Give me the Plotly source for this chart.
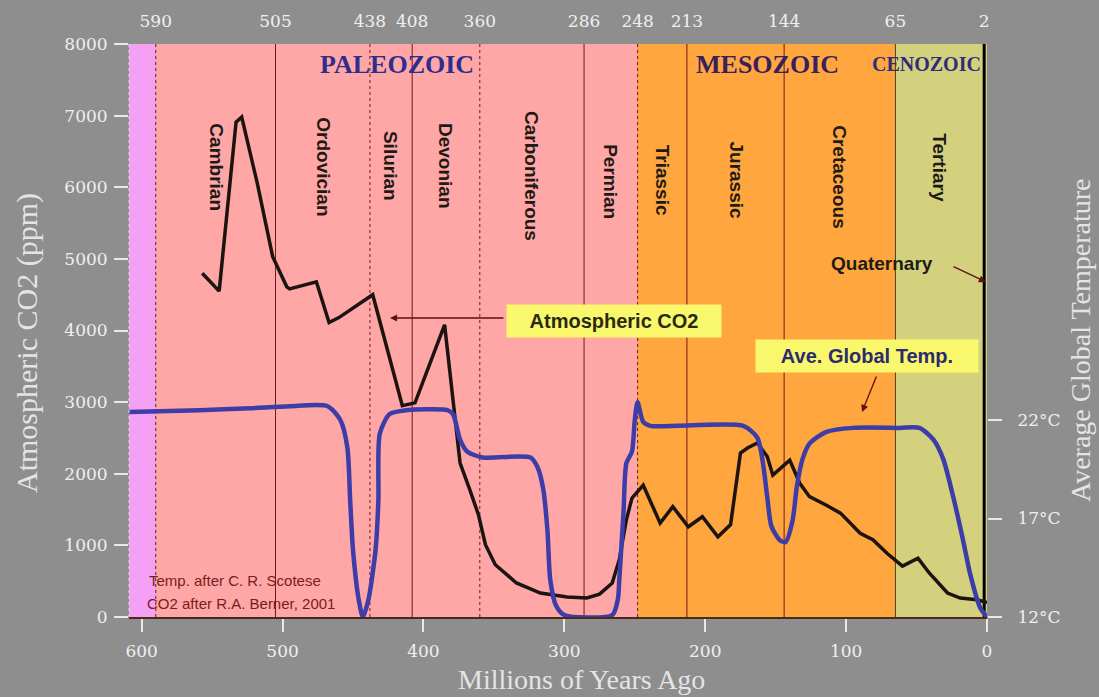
import plotly.graph_objects as go

# ---------------- data ----------------
co2_age = [557, 545, 533, 529, 518, 507, 497, 495, 476, 467, 460, 436, 415, 406,
           385, 379, 374, 367, 361, 356, 349, 334, 317, 298, 284, 275, 266, 261,
           256, 252, 244, 232, 223, 212, 202, 191, 182, 175, 170, 163, 156, 152,
           146, 140, 133, 126, 114, 104, 90, 81, 71, 60, 49, 41, 28, 19, 7, 0]
co2_ppm = [4800, 4550, 6910, 6980, 6060, 5030, 4610, 4580, 4680, 4110, 4180, 4500, 2950, 2990,
           4080, 3030, 2150, 1770, 1430, 1010, 730, 475, 335, 280, 265, 320, 475, 800,
           1355, 1660, 1840, 1310, 1540, 1260, 1400, 1120, 1290, 2290, 2360, 2430, 2240, 1980,
           2080, 2190, 1870, 1680, 1560, 1450, 1170, 1080, 890, 710, 820, 615, 335, 265, 240, 200]

temp_age = [609, 559, 523, 495, 468, 459, 454, 452, 450, 446, 443, 439, 434, 432, 431,
            424, 412, 383, 379, 374, 369, 358, 324, 319, 315, 312, 310, 306, 300, 266,
            262, 261, 258, 256, 252, 250, 248, 244, 239, 173, 163, 159, 156, 153, 147,
            143, 138, 135, 131, 126, 114, 95, 62, 48, 38, 31, 24, 17, 12, 5, 0]
temp_c = [22.4, 22.5, 22.6, 22.7, 22.7, 22.0, 20.6, 17.9, 15.4, 12.9, 12.0, 12.9, 15.4, 17.9, 21.3,
          22.3, 22.5, 22.5, 22.3, 21.0, 20.4, 20.1, 20.1, 19.6, 18.5, 16.4, 13.9, 12.6, 12.1, 12.1,
          12.9, 13.9, 17.3, 19.8, 20.4, 22.0, 22.9, 21.9, 21.7, 21.7, 21.1, 19.8, 18.1, 16.6, 15.9,
          15.8, 16.9, 18.6, 20.0, 20.8, 21.4, 21.6, 21.6, 21.6, 21.0, 20.0, 18.1, 15.9, 14.2, 12.5, 12.0]

boundary_ages = [590, 505, 438, 408, 360, 286, 248, 213, 144, 65, 2]
boundary_labels = ["590", "505", "438", "408", "360", "286", "248", "213", "144", "65", "2"]
period_names = ["Cambrian", "Ordovician", "Silurian", "Devonian", "Carboniferous",
                "Permian", "Triassic", "Jurassic", "Cretaceous", "Tertiary"]
era_names = ["PALEOZOIC", "MESOZOIC", "CENOZOIC"]
era_starts = [590, 248, 65]
era_ends = [248, 65, 0]
precambrian_start = 609
x_ticks = [600, 500, 400, 300, 200, 100, 0]
co2_ticks = [0, 1000, 2000, 3000, 4000, 5000, 6000, 7000, 8000]
temp_ticks = [12, 17, 22]
temp_tick_labels = ["12°C", "17°C", "22°C"]

# ---------------- layout / style ----------------
W, H = 1099, 697
ML, MR, MT, MB = 129, 112, 44, 80
PW, PH = W - ML - MR, H - MT - MB
X_RANGE = [precambrian_start, 0]
Y_RANGE = [0, 8000]
Y2_RANGE = [12, 12 + PH / 19.7]


def px(xp):
    return (xp - ML) / PW


def py(yp):
    return (H - MB - yp) / PH


GRAY = "#8e8e8e"
band_colors = ["#ffa7a7", "#ffa63e", "#d3d17d"]
precambrian_color = "#f4a0f4"
era_text_colors = ["#2d2d8e", "#3a1f5c", "#2d2d7e"]
era_text_sizes = [26, 26, 20]
era_label_x = [419, 156, 43]
period_label_y = [167, 167, 166, 166, 176, 182, 180, 180, 177, 168]
line_dash = ["dot", "solid", "dot", "solid", "dot", "solid", "dot", "solid", "solid", "solid", "solid"]
line_color = ["#6e1a1a"] * 9 + ["#4f4410", "#000000"]
line_width = [1, 1, 1, 1, 1, 1, 1, 1, 1, 1, 3]

TICK_FONT = dict(family="DejaVu Serif", size=17, color="#efefef")
TITLE_FONT = dict(family="Liberation Serif", size=30, color="#e4e4e4")
LABEL_FONT = dict(family="Liberation Sans", size=19, color="#1f1a16")
NOTE_FONT = dict(family="Liberation Sans", size=15, color="#7a1c1c")
C = dict(xanchor="center", yanchor="middle")

fig = go.Figure()

fig.add_trace(go.Scatter(x=temp_age, y=temp_c, yaxis="y2", mode="lines",
                         line=dict(color="#3d3daa", width=4.5, shape="spline", smoothing=0.7),
                         hoverinfo="skip", showlegend=False))
fig.add_trace(go.Scatter(x=co2_age, y=co2_ppm, mode="lines",
                         line=dict(color="#1c1410", width=3.5),
                         hoverinfo="skip", showlegend=False))
fig.add_trace(go.Scatter(x=boundary_ages, y=[0] * len(boundary_ages), xaxis="x2", mode="markers",
                         marker=dict(opacity=0), hoverinfo="skip", showlegend=False))

shapes = []
shapes.append(dict(type="rect", xref="x", yref="paper", x0=precambrian_start, x1=era_starts[0],
                   y0=0, y1=1, fillcolor=precambrian_color, line=dict(width=0), layer="below"))
for s, e, c in zip(era_starts, era_ends, band_colors):
    shapes.append(dict(type="rect", xref="x", yref="paper", x0=s, x1=e, y0=0, y1=1,
                       fillcolor=c, line=dict(width=0), layer="below"))
for a, d, c, w in zip(boundary_ages, line_dash, line_color, line_width):
    shapes.append(dict(type="line", xref="x", yref="paper", x0=a, x1=a, y0=0, y1=1,
                       line=dict(color=c, width=w, dash=d), layer="below"))
shapes.append(dict(type="line", xref="paper", yref="paper", x0=0, x1=0, y0=0, y1=1,
                   line=dict(color="#dcdcdc", width=1, dash="dot")))

ann = []
# axis titles
ann.append(dict(text="Atmospheric CO2 (ppm)", xref="paper", yref="paper", x=px(27), y=py(343),
                textangle=-90, showarrow=False, font=TITLE_FONT, **C))
ann.append(dict(text="Average Global Temperature", xref="paper", yref="paper", x=px(1080), y=py(340),
                textangle=-90, showarrow=False, font=dict(TITLE_FONT, size=28), **C))
ann.append(dict(text="Millions of Years Ago", xref="paper", yref="paper", x=px(581), y=py(679),
                showarrow=False, font=dict(TITLE_FONT, size=28), **C))
# eras
for name, xe, c, s in zip(era_names, era_label_x, era_text_colors, era_text_sizes):
    ann.append(dict(text="<b>%s</b>" % name, xref="x", yref="paper", x=xe, y=py(64),
                    showarrow=False, font=dict(family="Liberation Serif", size=s, color=c), **C))
# periods (centred between their boundaries)
for i, name in enumerate(period_names):
    mid = (boundary_ages[i] + boundary_ages[i + 1]) / 2
    ann.append(dict(text="<b>%s</b>" % name, xref="x", yref="paper", x=mid, y=py(period_label_y[i]),
                    textangle=90, showarrow=False, font=LABEL_FONT, **C))
# labelled boxes
ann.append(dict(text="<b>Atmospheric CO2</b>", xref="paper", yref="paper", x=px(614), y=py(321),
                showarrow=False, bgcolor="#f9f86c", width=212, height=30,
                font=dict(family="Liberation Sans", size=20, color="#2a2a12"), **C))
ann.append(dict(text="<b>Ave. Global Temp.</b>", xref="paper", yref="paper", x=px(867), y=py(356),
                showarrow=False, bgcolor="#f9f86c", width=220, height=30,
                font=dict(family="Liberation Sans", size=20, color="#2b2b6e"), **C))
ann.append(dict(text="<b>Quaternary</b>", xref="paper", yref="paper", x=px(882), y=py(263),
                showarrow=False, font=LABEL_FONT, **C))
# arrows
for hx, hy, ax, ay in [(390, 318, 115, 0), (862, 412, 15, -37), (986, 282, -34, -16)]:
    ann.append(dict(text="", xref="paper", yref="paper", x=px(hx), y=py(hy), ax=ax, ay=ay,
                    showarrow=True, arrowhead=2, arrowsize=1.1, arrowwidth=1.3,
                    arrowcolor="#5a1212"))
# source notes
ann.append(dict(text="Temp. after C. R. Scotese", xref="paper", yref="paper", x=px(147), y=py(580),
                xanchor="left", yanchor="middle", showarrow=False, font=NOTE_FONT))
ann.append(dict(text="CO2 after R.A. Berner, 2001", xref="paper", yref="paper", x=px(145), y=py(603),
                xanchor="left", yanchor="middle", showarrow=False, font=NOTE_FONT))

fig.update_layout(
    width=W, height=H, margin=dict(l=ML, r=MR, t=MT, b=MB, pad=0),
    paper_bgcolor=GRAY, plot_bgcolor=GRAY, showlegend=False,
    shapes=shapes, annotations=ann,
    xaxis=dict(range=X_RANGE, tickvals=x_ticks, ticks="outside", ticklen=13, tickwidth=1.5,
               tickcolor="#e8e8e8", showline=True, linecolor="#4a2a1a", linewidth=2,
               showgrid=False, zeroline=False, tickfont=TICK_FONT, ticklabelstandoff=5),
    xaxis2=dict(range=X_RANGE, overlaying="x", side="top", anchor="y", tickvals=boundary_ages,
                ticktext=boundary_labels, ticks="", showgrid=False, zeroline=False,
                showline=False, tickfont=TICK_FONT, ticklabelstandoff=13),
    yaxis=dict(range=Y_RANGE, tickvals=co2_ticks, ticks="outside", ticklen=14, tickwidth=1.5,
               tickcolor="#e8e8e8", showgrid=False, zeroline=False, showline=False,
               tickfont=TICK_FONT, ticklabelstandoff=3),
    yaxis2=dict(range=Y2_RANGE, overlaying="y", side="right", tickvals=temp_ticks,
                ticktext=temp_tick_labels, ticks="outside", ticklen=14, tickwidth=1.5,
                tickcolor="#e8e8e8", showgrid=False, zeroline=False, showline=False,
                tickfont=TICK_FONT, ticklabelstandoff=12),
)

fig.write_html(
    "out.html",
    config={"displayModeBar": False},
    post_script="document.body.style.margin='0px';document.body.style.overflow='hidden';"
                "document.body.style.backgroundColor='%s';" % GRAY,
)
